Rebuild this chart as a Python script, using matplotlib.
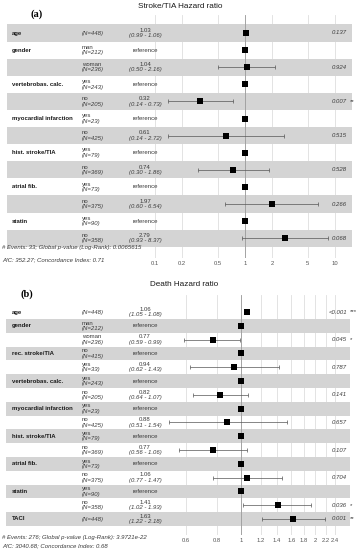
import numpy as np
import matplotlib
matplotlib.use("Agg")
import matplotlib.pyplot as plt
import matplotlib.transforms as mtransforms

plt.rcParams['font.family'] = ['Liberation Sans', 'DejaVu Sans']

W, H = 364, 550
nan = np.nan

# (a) Stroke/TIA hazard ratio
a_vars = ['age', 'gender', '', 'vertebrobas. calc.', '', 'myocardial infarction', '',
          'hist. stroke/TIA', '', 'atrial fib.', '', 'statin', '']
a_levels = ['', 'man', 'woman', 'yes', 'no', 'yes', 'no', 'yes', 'no', 'yes', 'no', 'yes', 'no']
a_n = [448, 212, 236, 243, 205, 23, 425, 79, 369, 73, 375, 90, 358]
a_hr = [1.03, 1, 1.04, 1, 0.32, 1, 0.61, 1, 0.74, 1, 1.97, 1, 2.79]
a_lo = [0.99, nan, 0.50, nan, 0.14, nan, 0.14, nan, 0.30, nan, 0.60, nan, 0.93]
a_hi = [1.06, nan, 2.16, nan, 0.73, nan, 2.72, nan, 1.86, nan, 6.54, nan, 8.37]
a_p = ['0.137', '', '0.924', '', '0.007', '', '0.515', '', '0.528', '', '0.266', '', '0.068']
a_stars = ['', '', '', '', '**', '', '', '', '', '', '', '', '']
a_ticks = [0.1, 0.2, 0.5, 1, 2, 5, 10]
a_tick_labels = ['0.1', '0.2', '0.5', '1', '2', '5', '10']
a_note = ['# Events: 33; Global p-value (Log-Rank): 0.0065615',
          'AIC: 352.27; Concordance Index: 0.71']

# (b) Death hazard ratio
b_vars = ['age', 'gender', '', 'rec. stroke/TIA', '', 'vertebrobas. calc.', '',
          'myocardial infarction', '', 'hist. stroke/TIA', '', 'atrial fib.', '',
          'statin', '', 'TACI']
b_levels = ['', 'man', 'woman', 'no', 'yes', 'yes', 'no', 'yes', 'no', 'yes', 'no',
            'yes', 'no', 'yes', 'no', '']
b_n = [448, 212, 236, 415, 33, 243, 205, 23, 425, 79, 369, 73, 375, 90, 358, 448]
b_hr = [1.06, 1, 0.77, 1, 0.94, 1, 0.82, 1, 0.88, 1, 0.77, 1, 1.06, 1, 1.41, 1.63]
b_lo = [1.05, nan, 0.59, nan, 0.62, nan, 0.64, nan, 0.51, nan, 0.56, nan, 0.77, nan, 1.02, 1.22]
b_hi = [1.08, nan, 0.99, nan, 1.43, nan, 1.07, nan, 1.54, nan, 1.06, nan, 1.47, nan, 1.93, 2.18]
b_p = ['<0.001', '', '0.045', '', '0.787', '', '0.141', '', '0.657', '', '0.107', '',
       '0.704', '', '0.036', '0.001']
b_stars = ['***', '', '*', '', '', '', '', '', '', '', '', '', '', '', '*', '**']
b_ticks = [0.6, 0.8, 1, 1.2, 1.4, 1.6, 1.8, 2, 2.2, 2.4]
b_tick_labels = ['0.6', '0.8', '1', '1.2', '1.4', '1.6', '1.8', '2', '2.2', '2.4']
b_note = ['# Events: 276; Global p-value (Log-Rank): 3.9721e-22',
          'AIC: 3040.68; Concordance Index: 0.68']

fig = plt.figure(figsize=(W / 100, H / 100), dpi=100)

FS = 4.3
TXT = '#3a3a3a'
BAND = '#d4d4d4'


def panel(top, bottom, row0, step, x1, decade, band_odd, band_x, vars_, levels, ns,
          hr, lo, hi, pv, stars, ticks, tick_labels, note, note_y, title, title_xy,
          tag, tag_xy):
    ax = fig.add_axes([0, 1 - bottom / H, 1, (bottom - top) / H])
    ax.set_xscale('log')
    ax.set_xlim(10 ** (-x1 / decade), 10 ** ((W - x1) / decade))
    ax.set_ylim((bottom - row0) / step, (top - row0) / step)
    for s in ax.spines.values():
        s.set_visible(False)
    ax.set_xticks(ticks)
    ax.set_xticklabels(tick_labels)
    ax.xaxis.set_minor_locator(matplotlib.ticker.NullLocator())
    ax.set_yticks([])
    ax.tick_params(axis='x', length=0, labelsize=4.2, labelcolor='#555555', pad=2.5)
    ax.grid(axis='x', color='#dedede', lw=0.6)
    ax.set_axisbelow(True)
    ax.axvline(1, color='#9a9a9a', lw=0.6, zorder=1.5)

    tr = mtransforms.blended_transform_factory(ax.transAxes, ax.transData)
    half = 2.7 / step
    n_rows = len(vars_)
    for i in range(n_rows):
        if (i % 2 == 1) == band_odd:
            ax.axhspan(i - 0.5, i + 0.5, xmin=band_x[0] / W, xmax=band_x[1] / W,
                       color=BAND, lw=0, zorder=1)
        if vars_[i]:
            ax.text(12 / W, i, vars_[i], transform=tr, fontsize=FS, fontweight='bold',
                    color='#1a1a1a', va='center', ha='left')
        if levels[i]:
            ax.text(82 / W, i - half, levels[i], transform=tr, fontsize=FS, color=TXT,
                    va='center', ha='left')
            ax.text(82 / W, i + half, '(N=%d)' % ns[i], transform=tr, fontsize=FS,
                    color=TXT, va='center', ha='left', style='italic')
        else:
            ax.text(82 / W, i, '(N=%d)' % ns[i], transform=tr, fontsize=FS, color=TXT,
                    va='center', ha='left', style='italic')
        if np.isnan(lo[i]):
            ax.text(145 / W, i, 'reference', transform=tr, fontsize=FS, color=TXT,
                    va='center', ha='center')
        else:
            ax.text(145 / W, i - half, '%.2f' % hr[i], transform=tr, fontsize=FS,
                    color=TXT, va='center', ha='center')
            ax.text(145 / W, i + half, '(%.2f - %.2f)' % (lo[i], hi[i]), transform=tr,
                    fontsize=FS, color=TXT, va='center', ha='center', style='italic')
            ax.errorbar(hr[i], i, xerr=[[hr[i] - lo[i]], [hi[i] - hr[i]]], fmt='none',
                        ecolor='#555555', elinewidth=0.5, capsize=1.2, capthick=0.5,
                        zorder=2)
        if pv[i]:
            ax.text(347 / W, i, pv[i], transform=tr, fontsize=FS, color=TXT,
                    va='center', ha='right', style='italic')
        if stars[i]:
            ax.text(350 / W, i, stars[i], transform=tr, fontsize=FS, color=TXT,
                    va='center', ha='left')
    ax.scatter(hr, range(n_rows), marker='s', s=17, color='black', lw=0, zorder=3)

    for k, line in enumerate(note):
        fig.text(2 / W, 1 - note_y[k] / H, line, fontsize=FS, color=TXT,
                 style='italic', va='center', ha='left')
    fig.text(title_xy[0] / W, 1 - title_xy[1] / H, title, fontsize=5.9, color='#1a1a1a',
             va='center', ha='center')
    fig.text(tag_xy[0] / W, 1 - tag_xy[1] / H, tag, fontsize=7.5, fontweight='bold',
             family='Liberation Serif', va='center', ha='center')


panel(15, 258, 33, 17.1, 245, 90, False, (7, 352), a_vars, a_levels, a_n, a_hr, a_lo,
      a_hi, a_p, a_stars, a_ticks, a_tick_labels, a_note, (248, 260),
      'Stroke/TIA Hazard ratio', (180, 7), '(a)', (37, 14))
panel(295, 535, 312, 13.8, 241, 246.8, True, (6, 350), b_vars, b_levels, b_n, b_hr, b_lo,
      b_hi, b_p, b_stars, b_ticks, b_tick_labels, b_note, (537, 546),
      'Death Hazard ratio', (184, 285), '(b)', (27, 294))

fig.savefig('out.png', dpi=100)
